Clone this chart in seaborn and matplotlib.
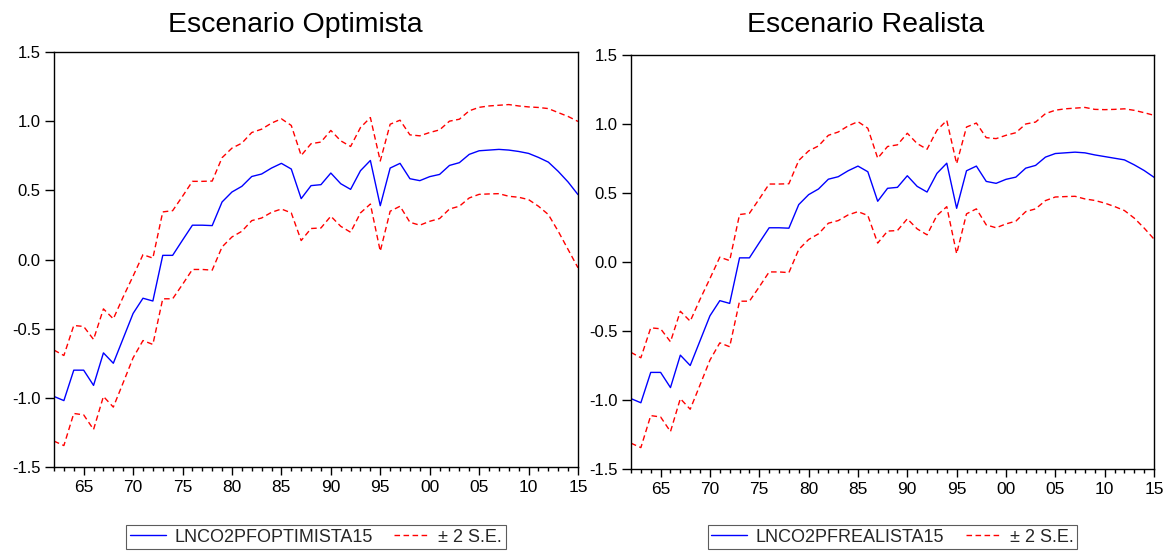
import numpy as np
import pandas as pd
import matplotlib
matplotlib.use("Agg")
import matplotlib.pyplot as plt
from matplotlib.lines import Line2D
import seaborn as sns

# ---------------- data ----------------
years = list(range(1962, 2016))

# common history 1962-2008
center_hist = [-0.99, -1.02, -0.80, -0.80, -0.91, -0.675, -0.75, -0.57, -0.39, -0.28,
               -0.30, 0.03, 0.03, 0.14, 0.248, 0.248, 0.245, 0.416, 0.488, 0.529,
               0.60, 0.618, 0.661, 0.695, 0.654, 0.44, 0.534, 0.541, 0.625, 0.548,
               0.507, 0.642, 0.716, 0.389, 0.661, 0.695, 0.584, 0.570, 0.599, 0.615,
               0.680, 0.70, 0.76, 0.786, 0.791, 0.796, 0.791]
upper_hist = [-0.655, -0.694, -0.477, -0.484, -0.578, -0.357, -0.429, -0.27, -0.12, 0.035,
              0.01, 0.344, 0.353, 0.457, 0.565, 0.565, 0.567, 0.736, 0.805, 0.841,
              0.918, 0.942, 0.986, 1.017, 0.969, 0.752, 0.837, 0.849, 0.933, 0.858,
              0.817, 0.954, 1.026, 0.712, 0.978, 1.007, 0.901, 0.894, 0.918, 0.937,
              1.0, 1.014, 1.075, 1.10, 1.11, 1.115, 1.12]
lower_hist = [-1.313, -1.345, -1.113, -1.123, -1.229, -0.99, -1.067, -0.89, -0.711, -0.586,
              -0.614, -0.284, -0.284, -0.18, -0.072, -0.072, -0.077, 0.091, 0.163, 0.204,
              0.281, 0.30, 0.341, 0.365, 0.337, 0.137, 0.224, 0.228, 0.313, 0.24,
              0.197, 0.337, 0.401, 0.06, 0.349, 0.385, 0.269, 0.248, 0.276, 0.296,
              0.365, 0.385, 0.445, 0.471, 0.474, 0.476, 0.457]

# scenario tails 2009-2015
opt_center_tail = [0.781, 0.767, 0.738, 0.704, 0.637, 0.56, 0.469]
opt_upper_tail = [1.11, 1.103, 1.099, 1.091, 1.062, 1.034, 0.998]
opt_lower_tail = [0.45, 0.433, 0.385, 0.325, 0.204, 0.072, -0.06]

real_center_tail = [0.776, 0.764, 0.752, 0.74, 0.704, 0.663, 0.614]
real_upper_tail = [1.106, 1.104, 1.106, 1.11, 1.099, 1.082, 1.063]
real_lower_tail = [0.446, 0.427, 0.402, 0.373, 0.318, 0.246, 0.166]

titles = ["Escenario Optimista", "Escenario Realista"]
series_names = ["LNCO2PFOPTIMISTA15", "LNCO2PFREALISTA15"]
band_label = "\u00b1 2 S.E."
xtick_years = [1965, 1970, 1975, 1980, 1985, 1990, 1995, 2000, 2005, 2010, 2015]
ytick_vals = [-1.5, -1.0, -0.5, 0.0, 0.5, 1.0, 1.5]

# ---------------- style ----------------
sns.set_theme(style="white")
plt.rcParams["font.family"] = ["Liberation Sans", "DejaVu Sans"]

fig = plt.figure(figsize=(11.66, 5.55), dpi=100)

panels = [
    (center_hist + opt_center_tail, upper_hist + opt_upper_tail, lower_hist + opt_lower_tail),
    (center_hist + real_center_tail, upper_hist + real_upper_tail, lower_hist + real_lower_tail),
]
ax_rects = [
    [54 / 1166, 1 - 467 / 555, (578 - 54) / 1166, (467 - 52) / 555],
    [631 / 1166, 1 - 469 / 555, (1154 - 631) / 1166, (469 - 55) / 555],
]
title_x = [295, 866]
legend_x = [316, 892.5]
dash = (0, (4, 2.5))

for i in range(2):
    c, u, l = panels[i]
    df = pd.DataFrame({"year": years, "center": c, "upper": u, "lower": l})
    ax = fig.add_axes(ax_rects[i])
    sns.lineplot(data=df, x="year", y="center", ax=ax, color="#0000ff", lw=1.0)
    sns.lineplot(data=df, x="year", y="upper", ax=ax, color="#ff0000", lw=1.0,
                 dashes=False, linestyle=dash)
    sns.lineplot(data=df, x="year", y="lower", ax=ax, color="#ff0000", lw=1.0,
                 dashes=False, linestyle=dash)
    ax.set_xlim(1962, 2015)
    ax.set_ylim(-1.5, 1.5)
    ax.set_xlabel("")
    ax.set_ylabel("")
    ax.set_xticks(xtick_years)
    ax.set_xticklabels([f"{y % 100:02d}" for y in xtick_years])
    ax.set_xticks(years, minor=True)
    ax.set_yticks(ytick_vals)
    ax.set_yticklabels([f"{v:.1f}" for v in ytick_vals])
    ax.tick_params(axis="x", which="major", direction="out", length=5.5, width=1,
                   color="black", labelsize=12.5, labelcolor="black", pad=4,
                   bottom=True)
    ax.tick_params(axis="y", which="major", direction="out", length=6.5, width=1,
                   color="black", labelsize=12, labelcolor="black", pad=3,
                   left=True)
    ax.tick_params(axis="x", which="minor", direction="out", length=3, width=1,
                   color="black", bottom=True)
    for s in ax.spines.values():
        s.set_color("black")
        s.set_linewidth(1.0)
        s.set_visible(True)
    ax.grid(False)

    fig.text(title_x[i] / 1166, 1 - 32 / 555, titles[i], ha="center", va="baseline",
             fontsize=20.5, color="black")

    handles = [Line2D([], [], color="#0000ff", lw=1.0),
               Line2D([], [], color="#ff0000", lw=1.0, linestyle=dash)]
    leg = fig.legend(handles, [series_names[i], band_label], ncol=2,
                     loc="upper center", bbox_to_anchor=(legend_x[i] / 1166, 1 - 525 / 555),
                     frameon=True, fancybox=False, fontsize=13, handlelength=2.0,
                     columnspacing=1.2, borderpad=0.2, borderaxespad=0.0,
                     handletextpad=0.45)
    leg.get_frame().set_edgecolor("#333333")
    leg.get_frame().set_linewidth(0.8)

fig.savefig("out.png", dpi=100)
